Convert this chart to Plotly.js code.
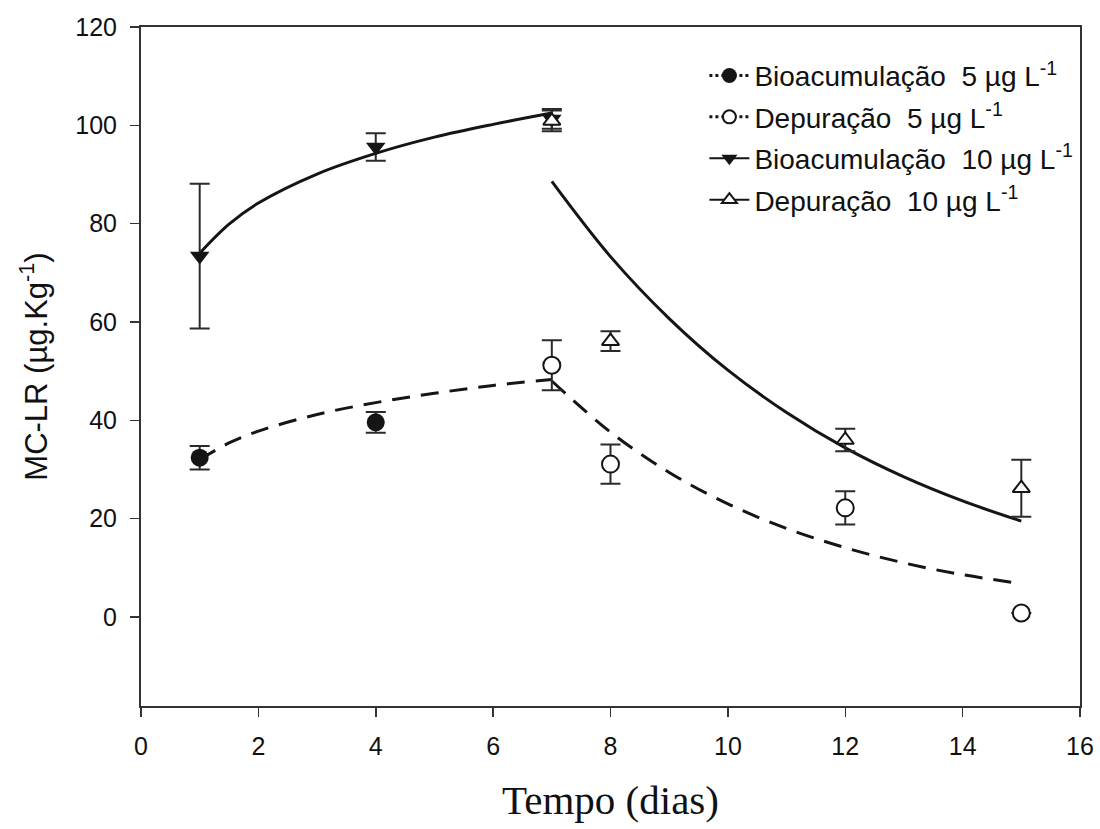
<!DOCTYPE html>
<html>
<head>
<meta charset="utf-8">
<script src="https://cdn.plot.ly/plotly-3.0.1.min.js"></script>
<style>html,body{margin:0;padding:0;background:#fff;}#chart{width:1100px;height:829px;}</style>
</head>
<body>
<div id="chart"></div>
<script>
// Measured points (mean ± error)
const bio5X = [1, 4];
const bio5Y = [32.4, 39.6];
const bio5Err = [2.4, 2.1];

const dep5X = [7, 8, 12, 15];
const dep5Y = [51.2, 31.1, 22.2, 0.8];
const dep5Err = [5.1, 4.0, 3.4, 0];

const bio10X = [1, 4, 7];
const bio10Y = [73.4, 95.6, 101.3];
const bio10Err = [14.7, 2.8, 2.0];

const dep10X = [7, 8, 12, 15];
const dep10Y = [100.9, 56.1, 36.0, 26.2];
const dep10Err = [2.1, 2.0, 2.3, 5.8];

// Fitted curves
const bio5FitX = [1, 1.5, 2, 3, 4, 5, 6, 7];
const bio5FitY = [32.0, 35.4, 37.8, 41.2, 43.6, 45.5, 47.1, 48.3];
const dep5FitX = [7, 8, 9, 10, 11, 12, 13, 14, 15];
const dep5FitY = [48.0, 37.6, 29.4, 23.0, 18.0, 14.1, 11.0, 8.6, 6.8];
const bio10FitX = [1, 1.5, 2, 3, 4, 5, 6, 7];
const bio10FitY = [74.0, 79.9, 84.2, 90.1, 94.3, 97.6, 100.2, 102.5];
const dep10FitX = [7, 8, 9, 10, 11, 12, 13, 14, 15];
const dep10FitY = [88.6, 73.3, 60.7, 50.2, 41.6, 34.4, 28.5, 23.6, 19.5];

const xTicks = [0, 2, 4, 6, 8, 10, 12, 14, 16];
const yTicks = [0, 20, 40, 60, 80, 100, 120];

const legendNames = [
  'Bioacumulação  5 µg L<sup>-1</sup>',
  'Depuração  5 µg L<sup>-1</sup>',
  'Bioacumulação  10 µg L<sup>-1</sup>',
  'Depuração  10 µg L<sup>-1</sup>'
];

const ink = '#151515';
const errStyle = (arr) => ({type: 'data', array: arr, visible: true, color: '#2a2a2a', thickness: 2, width: 10});

const traces = [
  // fitted curves
  {x: bio5FitX, y: bio5FitY, mode: 'lines', line: {color: ink, width: 3, dash: '18px,11px', shape: 'spline'}, showlegend: false, hoverinfo: 'skip'},
  {x: dep5FitX, y: dep5FitY, mode: 'lines', line: {color: ink, width: 3, dash: '18px,11px', shape: 'spline'}, showlegend: false, hoverinfo: 'skip'},
  {x: bio10FitX, y: bio10FitY, mode: 'lines', line: {color: ink, width: 3, shape: 'spline'}, showlegend: false, hoverinfo: 'skip'},
  {x: dep10FitX, y: dep10FitY, mode: 'lines', line: {color: ink, width: 3, shape: 'spline'}, showlegend: false, hoverinfo: 'skip'},
  // data points
  {x: bio10X, y: bio10Y, mode: 'markers', error_y: errStyle(bio10Err), marker: {symbol: 'triangle-down', size: 17, color: ink}, showlegend: false},
  {x: bio5X, y: bio5Y, mode: 'markers', error_y: errStyle(bio5Err), marker: {symbol: 'circle', size: 18, color: ink}, showlegend: false},
  {x: dep5X, y: dep5Y, mode: 'markers', error_y: errStyle(dep5Err), marker: {symbol: 'circle', size: 17, color: '#fff', line: {color: ink, width: 2}}, showlegend: false},
  {x: dep10X, y: dep10Y, mode: 'markers', error_y: errStyle(dep10Err), marker: {symbol: 'triangle-up', size: 15, color: '#fff', line: {color: ink, width: 2}}, showlegend: false},
  // legend entries
  {x: [null], y: [null], name: legendNames[0], legendgroup: 'a', mode: 'lines+markers', line: {color: ink, width: 3, dash: 'dot'}, marker: {symbol: 'circle', size: 15, color: ink}},
  {x: [null], y: [null], name: legendNames[1], legendgroup: 'b', mode: 'lines+markers', line: {color: ink, width: 3, dash: 'dot'}, marker: {symbol: 'circle', size: 13, color: '#fff', line: {color: ink, width: 2}}},
  {x: [null], y: [null], name: legendNames[2], legendgroup: 'c', mode: 'lines+markers', line: {color: ink, width: 2}, marker: {symbol: 'triangle-down', size: 14, color: ink}},
  {x: [null], y: [null], name: legendNames[3], legendgroup: 'd', mode: 'lines+markers', line: {color: ink, width: 2}, marker: {symbol: 'triangle-up', size: 13, color: '#fff', line: {color: ink, width: 2}}}
];

const axisCommon = {
  showline: true, linecolor: '#333', linewidth: 2, mirror: true,
  ticks: 'outside', ticklen: 9, tickwidth: 1.5, tickcolor: '#333',
  showgrid: false, zeroline: false,
  tickfont: {family: 'Arial, "Liberation Sans", sans-serif', size: 25, color: '#111'}
};

const layout = {
  width: 1100, height: 829,
  margin: {l: 141, r: 20, t: 27, b: 123},
  paper_bgcolor: '#fff', plot_bgcolor: '#fff',
  font: {family: 'Arial, "Liberation Sans", sans-serif', color: '#111'},
  xaxis: Object.assign({}, axisCommon, {
    range: [0, 16], tickvals: xTicks, ticktext: xTicks.map(String), ticklabelstandoff: 8,
    title: {text: 'Tempo (dias)', font: {family: '"Liberation Serif", "Times New Roman", serif', size: 41, color: '#111'}, standoff: 26}
  }),
  yaxis: Object.assign({}, axisCommon, {
    range: [-18.1, 120], tickvals: yTicks, ticktext: yTicks.map(String), ticklabelstandoff: 8,
    title: {text: 'MC-LR (µg.Kg<sup>-1</sup>)', font: {family: 'Arial, "Liberation Sans", sans-serif', size: 31, color: '#111'}, standoff: 18}
  }),
  legend: {
    x: 0.6, y: 0.965, xanchor: 'left', yanchor: 'top',
    bgcolor: 'rgba(255,255,255,0)', borderwidth: 0,
    font: {family: 'Arial, "Liberation Sans", sans-serif', size: 28, color: '#111'},
    traceorder: 'grouped', tracegroupgap: 2, itemwidth: 40
  },
  showlegend: true
};

Plotly.newPlot('chart', traces, layout, {displayModeBar: false, staticPlot: true});
</script>
</body>
</html>
